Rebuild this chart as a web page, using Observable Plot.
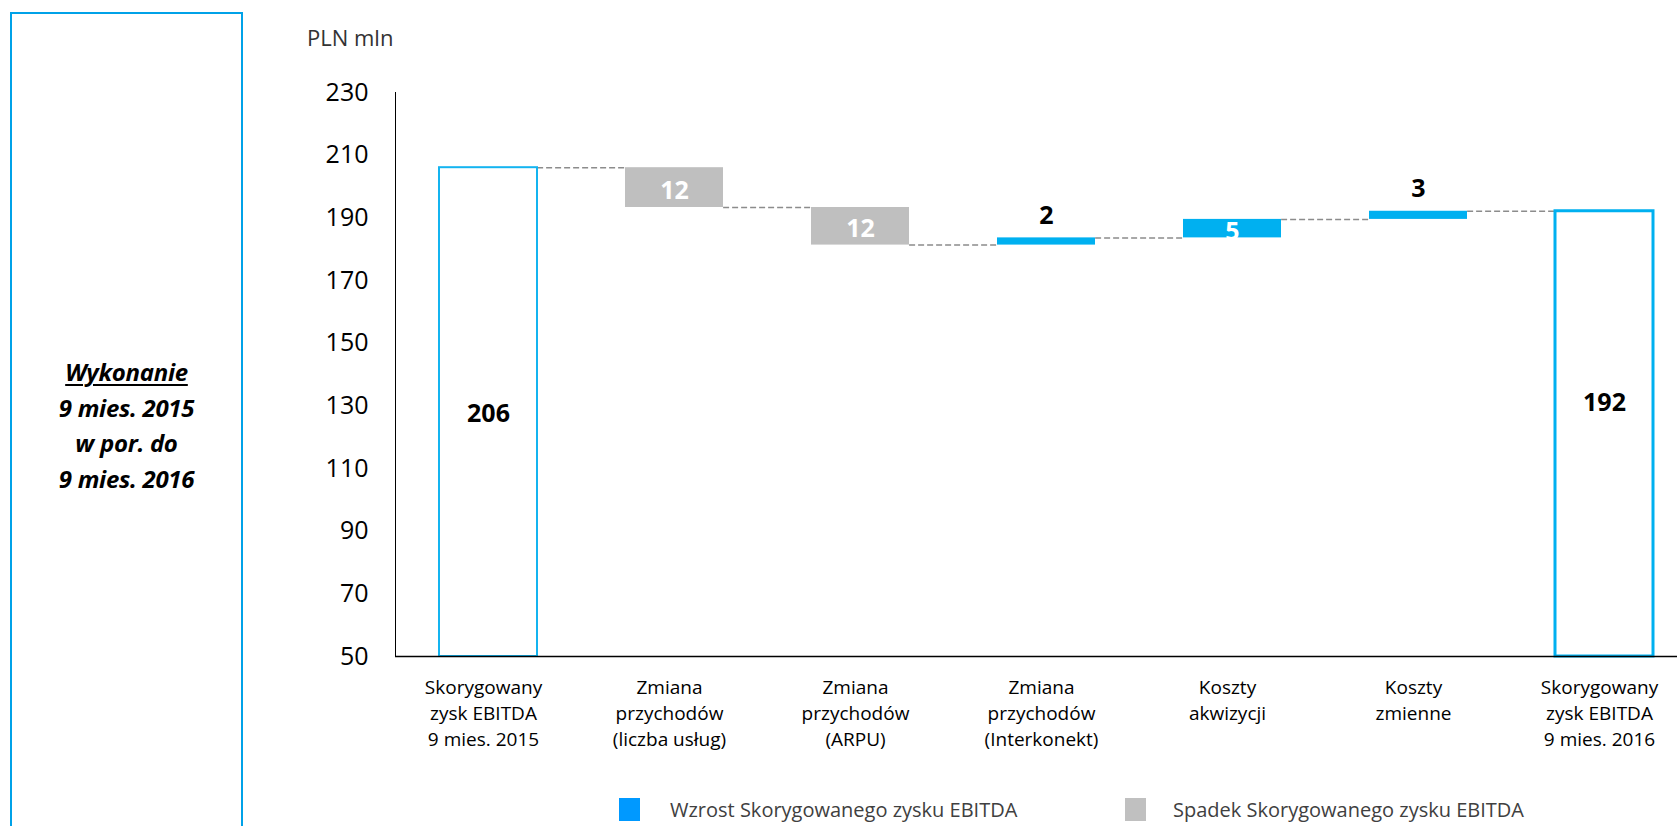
<!DOCTYPE html>
<html>
<head>
<meta charset="utf-8">
<script src="https://cdn.jsdelivr.net/npm/d3@7"></script>
<script src="https://cdn.jsdelivr.net/npm/@observablehq/plot@0.6"></script>
<style>
  body { margin: 0; background: #fff; font-family: "Open Sans", sans-serif; }
  #wrap { position: relative; width: 1677px; height: 826px; overflow: hidden; background: #fff; }
  #side { position: absolute; left: 10px; top: 12px; width: 233px; height: 840px; border: 2px solid #00A2E8; box-sizing: border-box; }
  #side .txt { position: absolute; left: 0; right: 0; top: 340px; text-align: center; font-weight: 700; font-style: italic; font-size: 24px; line-height: 35.5px; color: #000; letter-spacing: -0.3px; }
  #side .txt u { text-decoration-thickness: 1.5px; text-underline-offset: 3px; }
  #unit { position: absolute; left: 307px; top: 26px; font-size: 22px; line-height: 22px; color: #333; }
  #chart { position: absolute; left: 0; top: 0; }
  .leg { position: absolute; top: 798px; height: 23px; font-size: 20px; line-height: 23px; color: #404040; white-space: nowrap; }
  .leg .sw { position: absolute; left: 0; top: 0; width: 21px; height: 23px; }
  .leg .lb { position: absolute; top: 0; }
</style>
</head>
<body>
<div id="wrap">
  <div id="side"><div class="txt"><u>Wykonanie</u><br>9 mies. 2015<br>w por. do<br>9 mies. 2016</div></div>
  <div id="unit">PLN mln</div>
  <div id="chart"></div>
  <div class="leg" style="left:619px"><div class="sw" style="background:#0099FF"></div><div class="lb" style="left:51px">Wzrost Skorygowanego zysku EBITDA</div></div>
  <div class="leg" style="left:1125px"><div class="sw" style="background:#C0C0C0"></div><div class="lb" style="left:48px">Spadek Skorygowanego zysku EBITDA</div></div>
</div>
<script>
// ---- data ----
const categories = [
  "Skorygowany\nzysk EBITDA\n9 mies. 2015",
  "Zmiana\nprzychodów\n(liczba usług)",
  "Zmiana\nprzychodów\n(ARPU)",
  "Zmiana\nprzychodów\n(Interkonekt)",
  "Koszty\nakwizycji",
  "Koszty\nzmienne",
  "Skorygowany\nzysk EBITDA\n9 mies. 2016"
];
const startValue = 206;
const deltas = [-12.7, -12.0, 2.3, 5.9, 2.6];
const deltaLabels = ["12", "12", "2", "5", "3"];
const totalLabels = ["206", "192"];
const yTicks = [50, 70, 90, 110, 130, 150, 170, 190, 210, 230];
const baseValue = 50;

// ---- derived waterfall rows ----
let level = startValue;
const steps = deltas.map((d, i) => {
  const from = level;
  level += d;
  return {cat: categories[i + 1], y1: from, y2: level, delta: d, label: deltaLabels[i], next: categories[i + 2]};
});
const startRow = {cat: categories[0], y1: baseValue, y2: startValue, label: totalLabels[0]};
const endRow = {cat: categories[6], y1: baseValue, y2: level, label: totalLabels[1]};
const connectors = [
  {from: categories[0], to: categories[1], y: startValue},
  ...steps.map(s => ({from: s.cat, to: s.next, y: s.y2}))
];

const BLUE = "#00B0F0", GRAY = "#BFBFBF", BOX = "#14B4F0";
const W = 1677, H = 790, ML = 395, MR = 0, MT = 92, MB = 134;
const xOpts = {domain: categories, paddingInner: 0.4734, paddingOuter: 0.177, align: 0.65};
const bw = Plot.scale({x: {type: "band", ...xOpts, range: [ML, W - MR]}}).bandwidth;

const chart = Plot.plot({
  width: W, height: H,
  marginLeft: ML, marginRight: MR, marginTop: MT, marginBottom: MB,
  style: {fontFamily: "Open Sans, sans-serif", color: "#000", background: "transparent", overflow: "visible"},
  x: {...xOpts},
  y: {domain: [50, 230]},
  marks: [
    Plot.ruleY(connectors, {y: "y", x1: "from", x2: "to", insetLeft: bw, insetRight: bw, stroke: "#8C8C8C", strokeWidth: 1.5, strokeDasharray: "6,3"}),
    Plot.barY([startRow], {x: "cat", y1: "y1", y2: "y2", fill: "white", stroke: BOX, strokeWidth: 2}),
    Plot.barY([endRow], {x: "cat", y1: "y1", y2: "y2", fill: "white", stroke: BLUE, strokeWidth: 3}),
    Plot.barY(steps, {filter: d => d.delta < 0, x: "cat", y1: "y1", y2: "y2", fill: GRAY}),
    Plot.barY(steps, {filter: d => d.delta >= 0, x: "cat", y1: "y1", y2: "y2", fill: BLUE}),
    Plot.text([startRow], {x: "cat", y: d => (d.y1 + d.y2) / 2, text: "label", fontSize: 25, fontWeight: 700, fill: "#000", dy: 2}),
    Plot.text([endRow], {x: "cat", y: d => (d.y1 + d.y2) / 2, text: "label", fontSize: 25, fontWeight: 700, fill: "#000", dy: -31}),
    Plot.text(steps, {filter: d => Math.abs(d.delta) >= 5, x: "cat", y: d => (d.y1 + d.y2) / 2, text: "label", fontSize: 25, fontWeight: 700, fill: "white", dy: 3}),
    Plot.text(steps, {filter: d => Math.abs(d.delta) < 5, x: "cat", y: "y2", text: "label", fontSize: 25, fontWeight: 700, fill: "#000", dy: -22}),
    Plot.ruleY([baseValue], {stroke: "#000", strokeWidth: 1.5}),
    Plot.frame({anchor: "left", stroke: "#000", strokeWidth: 1}),
    Plot.axisY({ticks: yTicks, tickSize: 0, tickPadding: 27, fontSize: 25, label: null}),
    Plot.axisX({tickSize: 0, tickPadding: 19, fontSize: 19, lineHeight: 1.37, label: null, dx: -5})
  ]
});
document.getElementById("chart").appendChild(chart);
</script>
</body>
</html>
